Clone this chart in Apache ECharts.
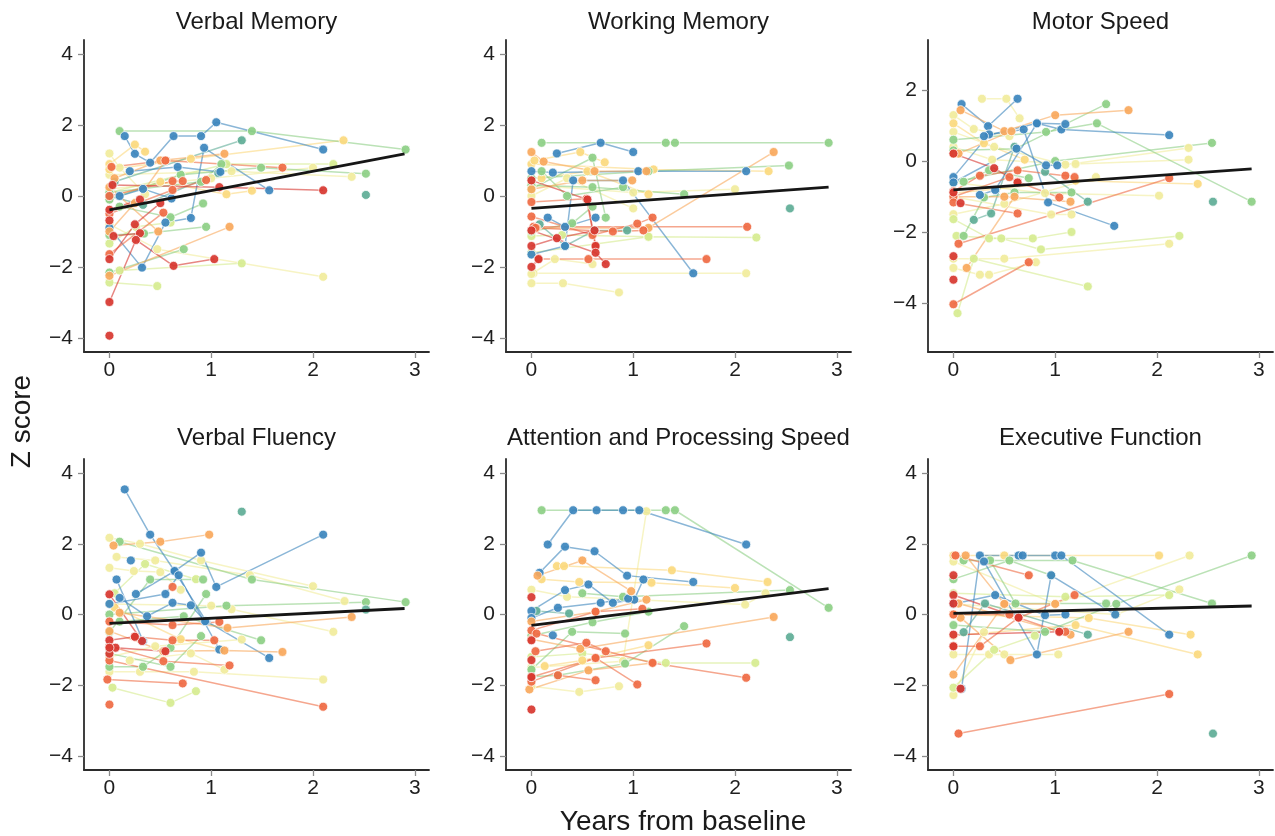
<!DOCTYPE html>
<html>
<head>
<meta charset="utf-8">
<script src="https://cdn.jsdelivr.net/npm/echarts@6/dist/echarts.min.js"></script>
<style>
html,body{margin:0;padding:0;background:#fff;}
#chart{width:1275px;height:836px;}
</style>
</head>
<body>
<div id="chart"></div>
<script>
// colour classes (Spectral-like): 0 red .. 8 blue
const palette = ['#d7362f','#ef6a43','#f9a85c','#fbd97e','#f1ec9c','#d6eb90','#8dcf86','#5eac96','#3c86bd'];

const titles = ['Verbal Memory','Working Memory','Motor Speed','Verbal Fluency','Attention and Processing Speed','Executive Function'];
const xTicks = [0,1,2,3];
const zTicks = [-4,-2,0,2,4];
const motorTicks = [-4,-2,0,2];

// each subject: [colour class, [[years, z], ...]]
const verbalMemory = [
  [4,[[0,-0.8],[0.47,-1.5],[2.1,-2.28]]],
  [5,[[0.1,-2.1],[1.3,-1.9]]],
  [5,[[0,-2.44],[0.47,-2.54]]],
  [4,[[0,0.6],[1.2,0.7],[2.38,0.54]]],
  [4,[[0,0.2],[1.0,0.5],[2.0,0.8]]],
  [5,[[0,0.1],[1.15,0.9],[2.2,0.9]]],
  [4,[[0,1.2],[0.1,0.8],[0.35,0.05]]],
  [5,[[0,-1.34],[0.26,-0.87],[0.6,-0.75]]],
  [3,[[0,0.9],[0.25,1.45],[0.35,1.25]]],
  [3,[[0,0.75],[0.8,1.05],[2.3,1.57]]],
  [3,[[0,-0.05],[0.5,0.4],[1.15,0.05],[1.4,0.15]]],
  [6,[[0.1,1.83],[1.4,1.83],[2.91,1.31]]],
  [6,[[0,-0.1],[0.7,0.6],[1.49,0.8],[2.52,0.63]]],
  [6,[[0,-1.1],[0.34,-1.06],[0.95,-0.87]]],
  [6,[[0,-2.16],[0.73,-1.5]]],
  [6,[[0.1,-0.3],[0.6,-0.6],[0.92,-0.21]]],
  [6,[[0,0.1],[0.9,0.4],[1.1,0.9]]],
  [7,[[0.05,0.4],[1.3,1.57]]],
  [7,[[2.52,0.03]]],
  [7,[[0,0.0],[0.33,-0.25],[1.07,0.65]]],
  [8,[[0.15,1.69],[0.25,1.19],[0.4,0.94],[0.63,1.69],[0.9,1.69],[1.05,2.08],[2.1,1.31]]],
  [8,[[0,-0.9],[0.32,-2.02],[0.55,-0.75],[0.8,-0.62],[0.93,1.36],[1.57,0.16]]],
  [8,[[0.2,0.7],[0.67,0.82],[1.09,0.68]]],
  [8,[[0.1,0.0],[0.33,0.2],[0.61,-0.07]]],
  [2,[[0,-2.25],[1.18,-0.87]]],
  [2,[[0,-1.0],[0.25,-0.2],[0.55,1.0]]],
  [2,[[0.05,0.5],[0.5,1.0],[1.13,1.19]]],
  [2,[[0,0.25],[0.48,-1.0]]],
  [1,[[0.02,0.82],[0.55,1.0],[1.7,0.8]]],
  [1,[[0,0.0],[0.62,0.42],[0.72,0.42]]],
  [1,[[0,-0.5],[0.62,0.17],[0.95,0.45]]],
  [1,[[0,-1.64],[0.53,-0.47]]],
  [0,[[0.03,0.31],[1.08,0.25],[2.1,0.16]]],
  [0,[[0,-0.39],[0.3,-0.1]]],
  [0,[[0,-0.69]]],
  [0,[[0.04,-1.13],[0.3,-1.05]]],
  [0,[[0,-1.78],[0.25,-0.8],[0.5,-0.2]]],
  [0,[[0,-2.99],[0.26,-1.24],[0.63,-1.97],[1.03,-1.78]]],
  [0,[[0,-3.94]]]
];
const workingMemory = [
  [4,[[0.02,-2.18],[2.11,-2.18]]],
  [4,[[0,-2.46],[0.31,-2.46],[0.86,-2.72]]],
  [4,[[0,-2.2],[0.23,-1.78],[0.6,-1.92]]],
  [4,[[0,0.3],[1.0,0.1],[2.0,0.19]]],
  [4,[[0,0.0],[0.35,0.5],[1.0,-0.35]]],
  [5,[[0,-1.6],[1.15,-1.15],[2.21,-1.17]]],
  [5,[[0,-1.13],[0.3,-1.1],[1.15,-1.15]]],
  [3,[[0,0.9],[1.2,0.75],[2.33,0.7]]],
  [3,[[0.03,1.0],[0.48,1.24],[0.72,0.95]]],
  [3,[[0.1,0.5],[0.55,0.7],[1.15,0.05]]],
  [6,[[0.1,1.5],[1.32,1.5],[1.41,1.5],[2.92,1.5]]],
  [6,[[0,0.5],[1.15,0.7],[2.53,0.86]]],
  [6,[[0,0.3],[0.6,0.25],[1.5,0.05]]],
  [6,[[0,0.2],[0.6,1.08],[0.73,-0.61]]],
  [6,[[0.1,0.7],[0.35,0.0],[0.9,0.25]]],
  [6,[[0,-1.0],[0.4,-0.77],[0.6,-0.3]]],
  [7,[[2.54,-0.35]]],
  [7,[[0.08,-0.8],[0.33,-1.41],[0.62,-0.97],[0.94,-0.97]]],
  [8,[[0.25,1.2],[0.68,1.5],[1.0,1.24]]],
  [8,[[0,0.7],[0.21,0.66],[1.05,0.7],[2.11,0.7]]],
  [8,[[0,-1.65],[0.33,-1.41],[0.41,0.44],[0.9,0.44],[1.59,-2.18]]],
  [8,[[0.16,-0.61],[0.33,-0.87],[0.63,-0.61]]],
  [2,[[0.05,-0.9],[1.15,-0.9],[2.38,1.24]]],
  [2,[[0,1.24],[0.12,0.97],[0.62,0.7],[1.13,0.7]]],
  [2,[[0,0.19],[0.5,0.44],[0.99,0.44]]],
  [1,[[0.02,-0.87],[2.12,-0.87]]],
  [1,[[0.07,-1.78],[1.72,-1.78]]],
  [1,[[0,-0.17],[0.54,-0.08],[0.63,-1.41]]],
  [1,[[0,-0.58],[0.6,-1.1],[1.04,-0.78],[1.19,-0.61]]],
  [1,[[0.04,-0.9],[0.8,-1.0],[1.1,-0.97]]],
  [1,[[0.56,-1.78]]],
  [0,[[0,0.44],[0.55,-0.1],[0.63,-1.41]]],
  [0,[[0,-1.41],[0.25,-1.19],[0.62,-0.97]]],
  [0,[[0,-2.0],[0.07,-1.78]]],
  [0,[[0,-0.97],[0.63,-1.6],[0.73,-1.92]]]
];
const motorSpeed = [
  [4,[[0.28,1.75],[0.52,1.75],[0.65,1.2]]],
  [4,[[0,1.29],[0.2,0.9],[0.55,0.7]]],
  [4,[[0,0.82],[0.4,0.4],[1.1,-0.1],[2.31,0.37]]],
  [4,[[0,0.4],[0.38,0.04],[1.2,-0.08],[2.31,0.04]]],
  [4,[[0,-0.6],[0.9,-0.9],[2.02,-0.97]]],
  [4,[[0,-1.49],[0.5,-1.2],[1.4,-0.45]]],
  [4,[[0,-2.74],[0.5,-2.74],[2.12,-2.32]]],
  [4,[[0,-3.0],[0.26,-3.19],[0.35,-3.19],[0.81,-2.84]]],
  [4,[[0,-1.0],[0.96,-1.5],[1.16,-1.5]]],
  [5,[[0,-1.63],[0.35,-2.17],[0.78,-2.17],[1.16,-1.99]]],
  [5,[[0.03,-2.1],[0.47,-2.17],[0.86,-2.48],[2.22,-2.1]]],
  [5,[[0.04,-4.27],[0.2,-2.74],[1.32,-3.52]]],
  [3,[[0,1.06],[0.3,0.5],[0.7,0.04]]],
  [3,[[0,-0.9],[1.2,-0.55],[2.4,-0.64]]],
  [6,[[0,0.3],[0.61,0.35],[1.5,1.6]]],
  [6,[[0,0.6],[0.91,0.82],[1.41,1.06],[2.93,-1.14]]],
  [6,[[0,-0.6],[1.0,0.0],[2.54,0.51]]],
  [6,[[0.1,-0.58],[0.35,-0.26],[0.74,-0.48]]],
  [6,[[0.1,-2.1],[0.3,-1.02],[0.6,-0.88],[1.16,-0.88]]],
  [7,[[2.55,-1.14]]],
  [7,[[0.2,-1.65],[0.37,-1.47],[0.6,0.4]]],
  [7,[[0.9,-0.3],[1.32,-1.14]]],
  [8,[[0.08,1.6],[0.34,0.98],[0.63,1.75]]],
  [8,[[0,-0.45],[0.35,0.75],[0.69,0.89],[0.93,-1.16],[1.58,-1.82]]],
  [8,[[0,-0.6],[0.62,0.35],[0.91,-0.12],[1.02,-0.12]]],
  [8,[[0.3,0.7],[0.82,1.06],[1.06,0.89],[2.12,0.73]]],
  [8,[[0.26,-0.95],[0.41,-0.81],[0.82,1.06],[1.1,1.04]]],
  [2,[[0.07,1.43],[0.5,0.84],[1.0,1.29],[1.72,1.43]]],
  [2,[[0,0.21],[0.05,0.21],[0.57,0.84]]],
  [2,[[0,-1.0],[0.5,-1.0],[1.15,-1.14]]],
  [2,[[0.13,-3.0],[0.6,-1.0]]],
  [1,[[0.05,-2.32],[2.12,-0.48]]],
  [1,[[0,-4.02],[0.74,-2.84]]],
  [1,[[0,-0.85],[0.26,-0.41],[0.63,-0.26],[1.1,-0.41],[1.19,-0.45]]],
  [1,[[0,-1.0],[0.55,-0.45],[0.63,-0.58],[1.04,-1.02]]],
  [1,[[0,-1.16],[0.63,-1.47]]],
  [0,[[0,0.21],[0.4,-0.2],[0.63,-0.6]]],
  [0,[[0,-0.88]]],
  [0,[[0.07,-1.18]]],
  [0,[[0,-2.67]]],
  [0,[[0,-3.33]]]
];
const verbalFluency = [
  [4,[[0,2.17],[0.3,2.0],[0.9,1.53],[2.0,0.8]]],
  [4,[[0.07,1.63],[0.45,1.53],[1.38,1.11],[2.31,0.38]]],
  [4,[[0,1.32],[0.24,1.23],[0.5,1.2],[0.7,0.7]]],
  [4,[[0,0.3],[1.0,0.25],[1.2,0.15],[2.2,-0.49]]],
  [4,[[0,-1.62],[0.3,-1.62],[0.83,-1.62],[2.1,-1.84]]],
  [4,[[0,-1.2],[0.45,-0.9],[1.3,-0.71]]],
  [4,[[0.2,-1.3],[0.8,-1.1],[1.13,-1.56]]],
  [5,[[0.05,0.6],[0.35,1.43],[0.85,1.0]]],
  [5,[[0.03,-2.07],[0.6,-2.5],[0.85,-2.17]]],
  [3,[[0.05,0.2],[0.7,-0.7],[1.1,-1.0]]],
  [6,[[0.1,2.06],[1.4,0.99],[2.91,0.35]]],
  [6,[[0,0.0],[1.15,0.25],[2.52,0.35]]],
  [6,[[0,-0.5],[0.4,0.99],[0.92,0.99]]],
  [6,[[0,-1.48],[0.33,-1.48],[0.6,-0.94],[0.95,0.58]]],
  [6,[[0.1,-0.2],[0.73,-0.05],[1.49,-0.73]]],
  [6,[[0,-1.1],[0.6,-1.48],[0.9,-0.61]]],
  [7,[[1.3,2.91]]],
  [7,[[2.52,0.14]]],
  [8,[[0.15,3.54],[0.4,2.26],[0.64,1.23],[0.95,-0.19],[1.57,-1.23]]],
  [8,[[0.26,0.58],[0.64,1.23],[0.9,1.75],[1.05,0.78],[2.1,2.26]]],
  [8,[[0.21,1.53]]],
  [8,[[0.07,0.99],[0.33,-0.75]]],
  [8,[[0,0.3],[0.55,0.58],[0.68,1.11],[1.08,-0.99]]],
  [8,[[0.1,0.47],[0.37,-0.05],[0.62,0.33],[0.8,0.26],[0.94,-0.19]]],
  [2,[[0.04,1.95],[0.5,2.06],[0.98,2.26]]],
  [2,[[0.1,0.05],[1.16,-0.38],[2.38,-0.07]]],
  [2,[[0,-0.47],[0.53,-1.04],[1.13,-1.02],[1.7,-1.06]]],
  [1,[[-0.02,-1.84],[0.72,-1.95]]],
  [1,[[0,-0.2],[0.62,-0.3],[1.08,-0.21]]],
  [1,[[0.25,-0.63],[0.62,-0.73],[1.03,-0.73]]],
  [1,[[0,-1.3],[2.1,-2.61]]],
  [1,[[0,-0.9],[0.53,-1.32],[1.18,-1.44]]],
  [1,[[0,-2.55]]],
  [1,[[0.62,0.78]]],
  [0,[[0,0.57],[0.32,-0.75]]],
  [0,[[0,-0.73],[0.25,-0.63]]],
  [0,[[0.06,-0.94],[0.55,-1.04]]],
  [0,[[0,-1.11]]],
  [0,[[0,-0.94]]]
];
const attention = [
  [4,[[0,-1.5],[0.9,-1.32],[1.13,2.92]]],
  [4,[[0,0.7],[0.35,0.5],[2.1,0.28],[2.3,0.6]]],
  [4,[[0,-2.03],[0.47,-2.19],[0.86,-2.03]]],
  [5,[[0,-1.2],[0.5,-1.1],[1.32,-1.37],[2.2,-1.37]]],
  [3,[[0.25,1.37],[0.32,1.37],[1.38,1.25],[2.32,0.92]]],
  [3,[[0.1,1.0],[0.47,0.92],[1.18,0.9],[2.0,0.75]]],
  [3,[[0.13,-1.46],[0.5,-1.3],[1.15,-0.87]]],
  [6,[[0.1,2.95],[1.32,2.95],[1.41,2.95],[2.92,0.19]]],
  [6,[[0.5,0.6],[0.9,0.5],[2.54,0.69]]],
  [6,[[0,-0.6],[0.6,-0.22],[1.15,0.08]]],
  [6,[[0,-1.76],[0.26,-1.72],[0.92,-1.39],[1.5,-0.33]]],
  [6,[[0,-1.56],[0.4,-0.49],[0.92,-0.54]]],
  [7,[[0.05,0.1],[0.37,0.03]]],
  [7,[[2.54,-0.64]]],
  [8,[[0.16,1.98],[0.41,2.95],[0.64,2.95],[0.9,2.95],[1.06,2.95],[2.11,1.98]]],
  [8,[[0.08,1.18],[0.33,1.92],[0.62,1.79],[0.94,1.1],[1.59,0.92]]],
  [8,[[0,0.1],[0.33,0.69],[0.56,0.85],[0.8,0.33],[1.01,0.42],[1.1,0.99]]],
  [8,[[0,-0.1],[0.26,0.19],[0.68,0.33],[0.95,0.45]]],
  [8,[[0.21,-0.59]]],
  [2,[[0.06,1.1],[0.5,1.53],[0.98,0.66]]],
  [2,[[0,-0.2],[0.63,0.08],[1.13,0.42]]],
  [2,[[0,-0.7],[0.48,-0.97],[2.38,-0.07]]],
  [2,[[-0.02,-2.12],[0.56,-1.58],[1.19,-1.37]]],
  [1,[[0,-0.45],[0.63,0.08],[1.09,0.16]]],
  [1,[[0.04,-1.04],[0.54,-0.8],[0.73,-1.04]]],
  [1,[[0,-1.9],[0.63,-1.23],[1.04,-1.98]]],
  [1,[[0.26,-1.72],[0.63,-1.86]]],
  [1,[[0,-1.77],[0.63,-1.23],[1.72,-0.82]]],
  [1,[[0.05,-0.54],[1.19,-1.37],[2.11,-1.79]]],
  [0,[[0,0.49]]],
  [0,[[0,-0.73]]],
  [0,[[0,-1.29]]],
  [0,[[0,-1.77]]],
  [0,[[0,-2.69]]]
];
const executive = [
  [4,[[0,1.5],[1.0,0.3],[2.32,1.67]]],
  [4,[[0,0.3],[1.6,0.0],[2.22,0.71]]],
  [4,[[0,-1.13],[0.35,-1.13],[0.5,-1.13],[1.03,-1.13]]],
  [4,[[0,-2.28],[0.3,-0.5]]],
  [5,[[0,0.6],[1.1,0.5],[2.12,0.55]]],
  [5,[[0,-2.07],[0.4,-1.0],[0.8,-0.6]]],
  [3,[[0,1.67],[0.5,1.67],[2.02,1.67]]],
  [3,[[0,0.0],[1.33,-0.1],[2.33,-0.57]]],
  [3,[[0,-0.6],[1.2,-0.3],[2.4,-1.13]]],
  [6,[[0.1,1.53],[1.17,1.53],[2.54,0.31]]],
  [6,[[0.36,1.53],[0.61,0.31],[1.5,0.31]]],
  [6,[[0,-0.3],[0.9,-0.49],[1.6,0.3],[2.93,1.67]]],
  [6,[[0,1.0],[0.55,1.53],[0.96,1.11]]],
  [7,[[0.1,-0.5],[0.31,0.31],[1.32,-0.57]]],
  [7,[[2.55,-3.37]]],
  [8,[[0.08,-2.1],[0.26,1.67],[0.64,1.67],[0.68,1.67],[1.0,1.67],[1.06,1.67],[2.12,-0.57]]],
  [8,[[0,0.3],[0.41,0.55],[0.9,-0.02],[1.1,0.0]]],
  [8,[[0.3,1.5],[0.82,-1.13],[0.96,1.11],[1.59,0.0]]],
  [2,[[0.12,1.67],[0.5,0.3],[1.0,0.3]]],
  [2,[[0,-1.7],[0.5,0.3]]],
  [2,[[0.07,-0.09],[0.56,-1.29],[1.72,-0.49]]],
  [2,[[0.05,0.31],[1.15,-0.57]]],
  [1,[[0.02,1.67],[0.74,1.11]]],
  [1,[[0.05,-3.37],[2.12,-2.25]]],
  [1,[[0,0],[0.55,0.0],[0.64,-0.09],[1.04,-0.49],[1.1,-0.49]]],
  [1,[[0,-0.9],[0.26,-0.9],[0.64,-0.09],[1.19,0.55]]],
  [0,[[0,1.11]]],
  [0,[[0,0.55],[0.64,-0.09]]],
  [0,[[0,0.31]]],
  [0,[[0,-0.57],[1.04,-0.49]]],
  [0,[[0,-0.9]]],
  [0,[[0.07,-2.1]]]
];

// fitted group trends [start, end]
const verbalMemoryTrend = [[0,-0.39],[2.9,1.19]];
const workingMemoryTrend = [[0,-0.35],[2.92,0.25]];
const motorSpeedTrend = [[0,-0.81],[2.93,-0.22]];
const verbalFluencyTrend = [[0,-0.25],[2.9,0.17]];
const attentionTrend = [[0,-0.31],[2.92,0.73]];
const executiveTrend = [[0,0.03],[2.93,0.24]];

const subjectSets = [verbalMemory, workingMemory, motorSpeed, verbalFluency, attention, executive];
const trends = [verbalMemoryTrend, workingMemoryTrend, motorSpeedTrend, verbalFluencyTrend, attentionTrend, executiveTrend];
const yRanges = [[-4.4,4.4],[-4.4,4.4],[-5.36,3.4],[-4.4,4.4],[-4.4,4.4],[-4.4,4.4]];
const yTickSets = [zTicks, zTicks, motorTicks, zTicks, zTicks, zTicks];

const FONT = "'Liberation Sans', Arial, Helvetica, sans-serif";
const colLeft = [84, 506, 928];
const colWidth = 345;
const rowTop = [40, 459];
const rowHeight = [312, 311];

const grids = [], xAxes = [], yAxes = [], series = [], graphics = [];
const fmt = v => v < 0 ? '\u2212' + (-v) : String(v);

for (let i = 0; i < 6; i++) {
  const c = i % 3, r = Math.floor(i / 3);
  grids.push({left: colLeft[c], top: rowTop[r], width: colWidth, height: rowHeight[r], containLabel: false});
  xAxes.push({
    type: 'value', gridIndex: i, min: -0.25, max: 3.14,
    axisLine: {show: true, onZero: false, lineStyle: {color: '#2b2b2b', width: 1.8}},
    axisTick: {show: true, length: 6, customValues: xTicks, lineStyle: {color: '#8c8c8c', width: 1.3}},
    axisLabel: {customValues: xTicks, formatter: fmt, fontSize: 21, color: '#1e1e1e', fontFamily: FONT, margin: 8},
    splitLine: {show: false}
  });
  yAxes.push({
    type: 'value', gridIndex: i, min: yRanges[i][0], max: yRanges[i][1],
    axisLine: {show: true, onZero: false, lineStyle: {color: '#2b2b2b', width: 1.8}},
    axisTick: {show: true, length: 6, customValues: yTickSets[i], lineStyle: {color: '#8c8c8c', width: 1.3}},
    axisLabel: {customValues: yTickSets[i], formatter: fmt, fontSize: 21, color: '#1e1e1e', fontFamily: FONT, margin: 11},
    splitLine: {show: false}
  });
  subjectSets[i].forEach(([ci, pts]) => {
    series.push({
      type: 'line', xAxisIndex: i, yAxisIndex: i, data: pts,
      symbol: 'circle', symbolSize: 9, showSymbol: true, showAllSymbol: true,
      lineStyle: {color: palette[ci], width: 1.5, opacity: 0.6},
      itemStyle: {color: palette[ci], opacity: 0.92, borderColor: '#ffffff', borderWidth: 0.8},
      silent: true, animation: false, z: 2
    });
  });
  series.push({
    type: 'line', xAxisIndex: i, yAxisIndex: i, data: trends[i],
    symbol: 'none', lineStyle: {color: '#161616', width: 2.8},
    silent: true, animation: false, z: 5
  });
  graphics.push({
    type: 'text', x: colLeft[c] + colWidth / 2, y: r === 0 ? 22 : 438,
    style: {text: titles[i], font: '24px ' + FONT, fill: '#1a1a1a', textAlign: 'center', textVerticalAlign: 'middle'}
  });
}
graphics.push({
  type: 'text', x: 22.5, y: 421.5, rotation: Math.PI / 2,
  style: {text: 'Z score', font: '28px ' + FONT, fill: '#1a1a1a', textAlign: 'center', textVerticalAlign: 'middle'}
});
graphics.push({
  type: 'text', x: 683, y: 822,
  style: {text: 'Years from baseline', font: '28px ' + FONT, fill: '#1a1a1a', textAlign: 'center', textVerticalAlign: 'middle'}
});

const chart = echarts.init(document.getElementById('chart'), null, {renderer: 'canvas'});
chart.setOption({
  animation: false,
  backgroundColor: '#ffffff',
  grid: grids, xAxis: xAxes, yAxis: yAxes, series: series, graphic: graphics
});
</script>
</body>
</html>
